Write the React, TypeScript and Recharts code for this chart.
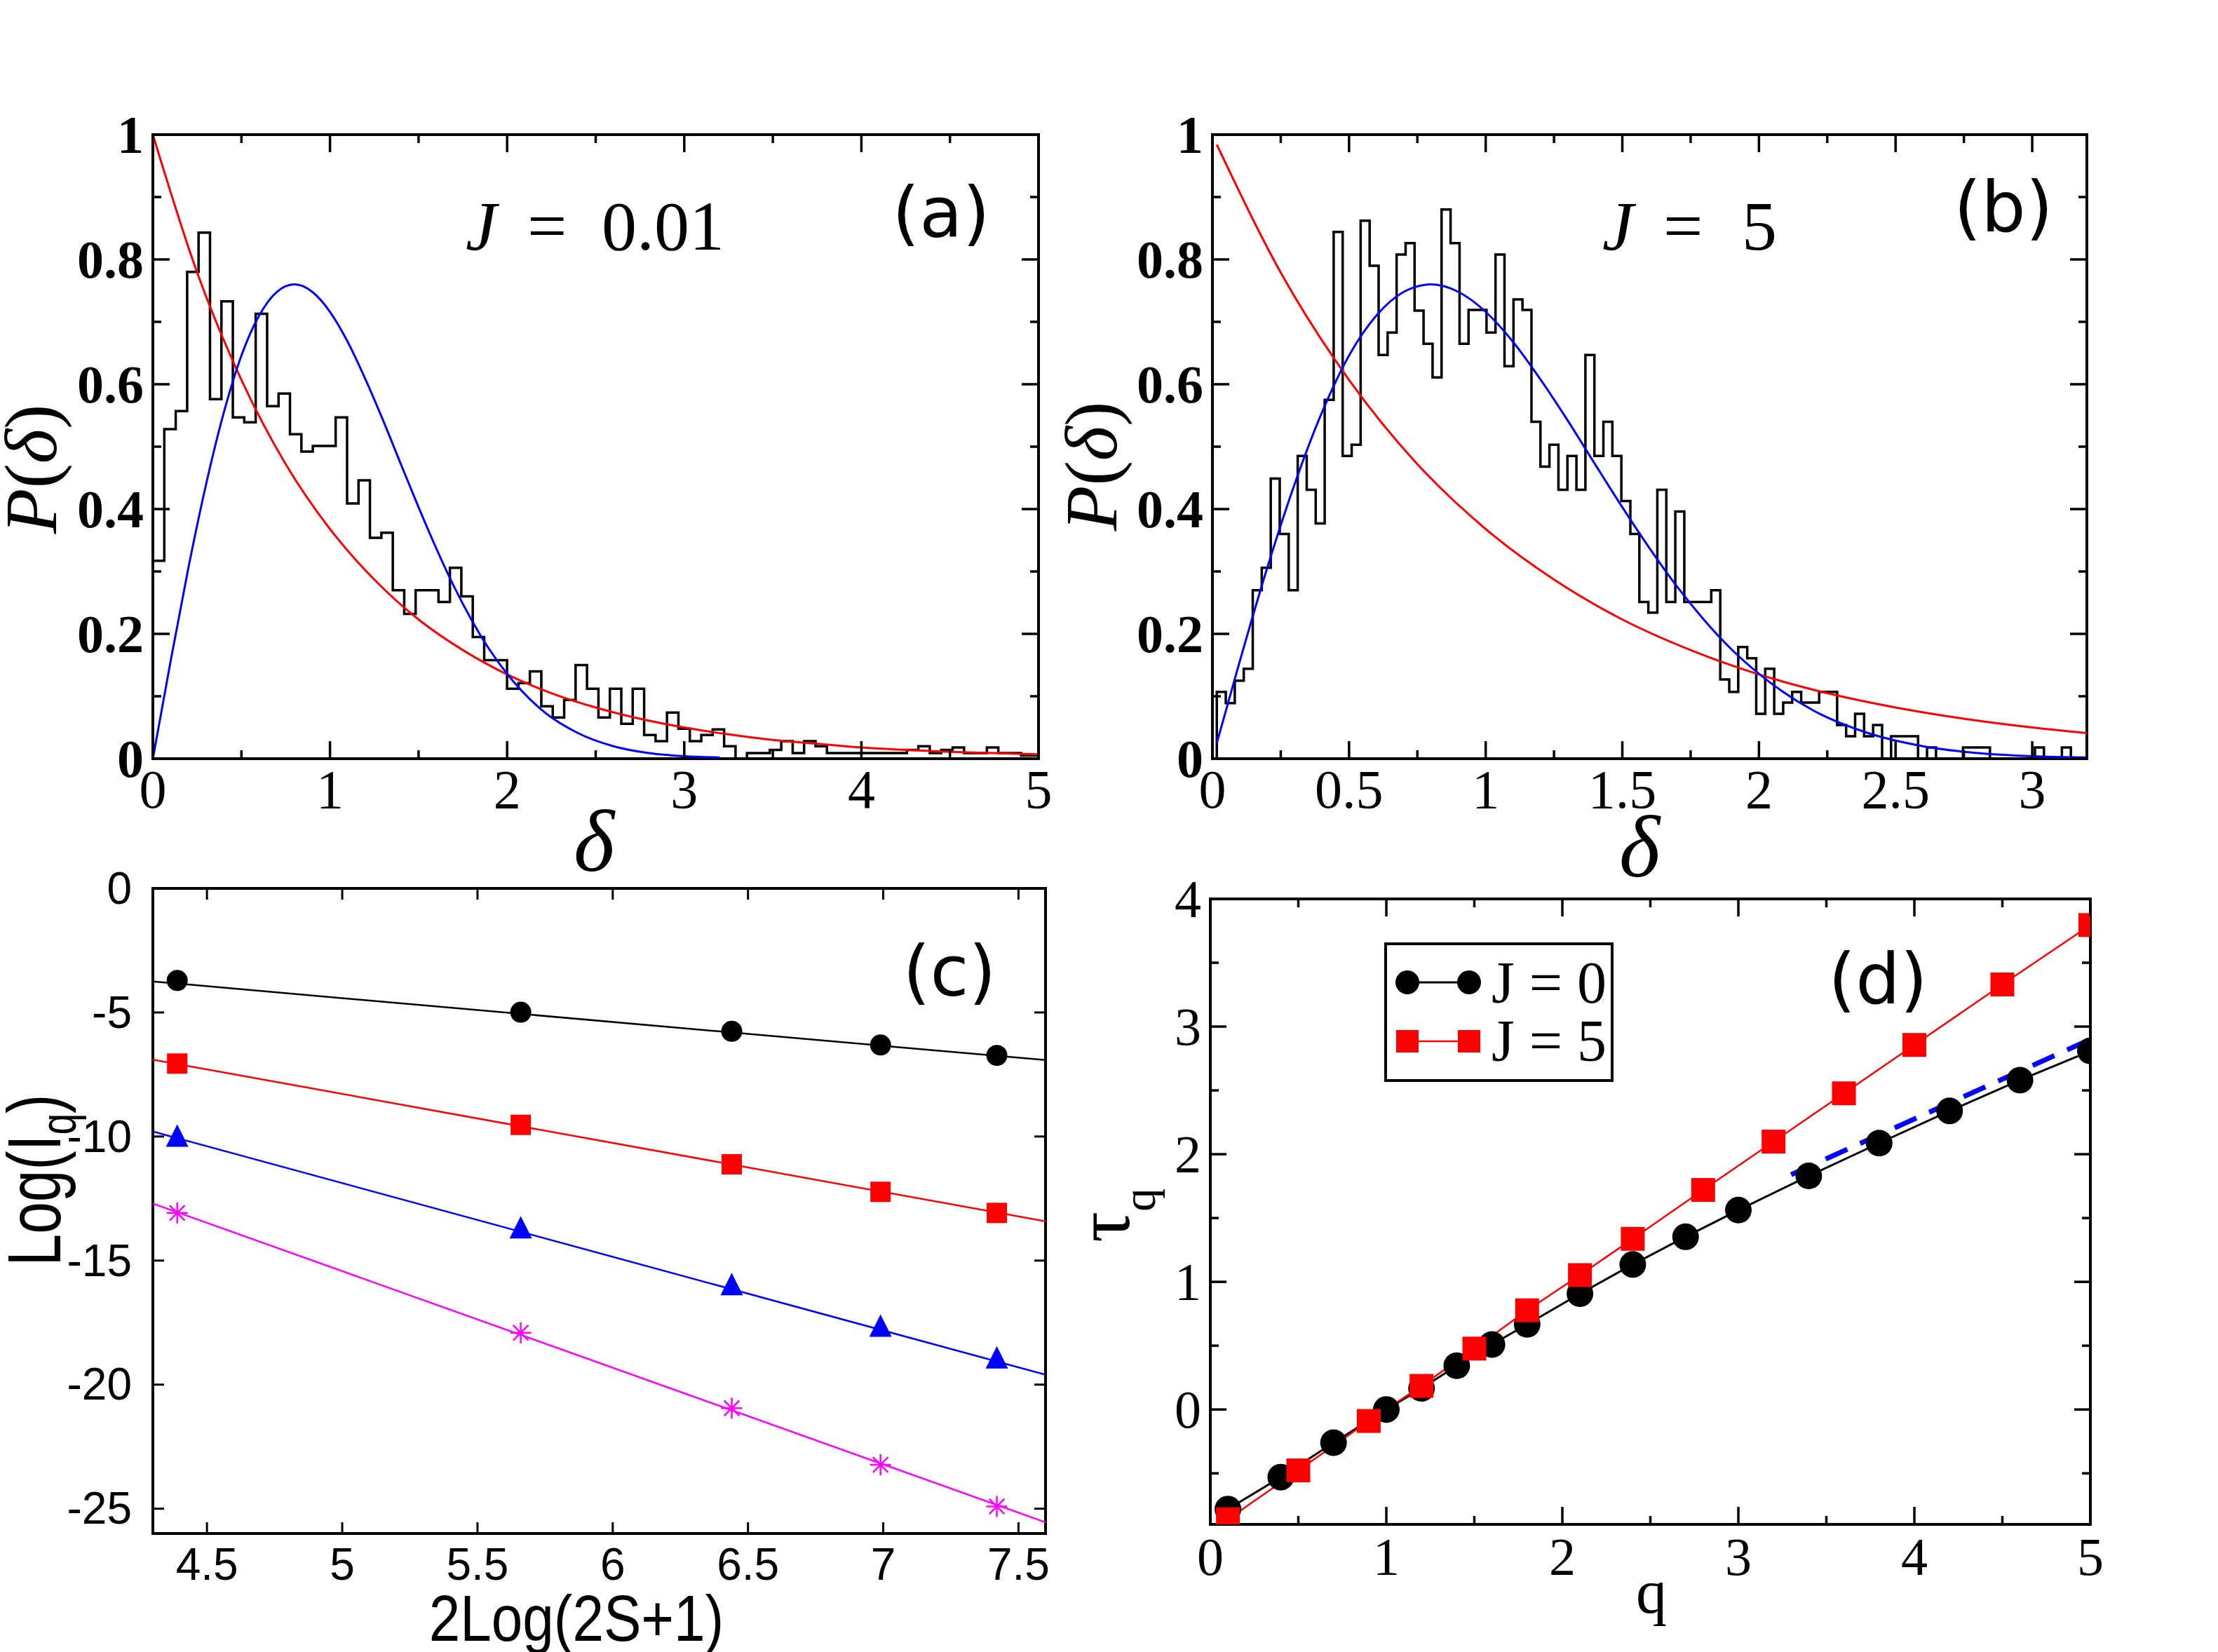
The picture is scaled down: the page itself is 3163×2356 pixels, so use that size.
import React from 'react';
import { ComposedChart, Line, XAxis, YAxis, ReferenceArea } from 'recharts';

const W = 3163;
const H = 2356;

const serif = "'Liberation Serif', 'Times New Roman', serif";
const sans = "'Liberation Sans', Arial, sans-serif";
const tag = "'DejaVu Sans', Verdana, sans-serif";

// ---- (a) level spacing histogram, J = 0.01
const histStartA = 0;
const histWidthA = 0.0645;
const histA = [
  0.317, 0.528, 0.557, 0.78, 0.843, 0.576, 0.733, 0.547, 0.539, 0.713,
  0.565, 0.585, 0.52, 0.492, 0.501, 0.501, 0.547, 0.409, 0.446, 0.354,
  0.362, 0.27, 0.232, 0.27, 0.27, 0.251, 0.306, 0.26, 0.195, 0.158,
  0.158, 0.112, 0.121, 0.14, 0.084, 0.066, 0.094, 0.15, 0.112, 0.066,
  0.112, 0.056, 0.112, 0.038, 0.028, 0.074, 0.048, 0.028, 0.038, 0.047,
  0.02, 0, 0.009, 0.009, 0.014, 0.028, 0.009, 0.028, 0.02, 0.009,
  0.009, 0.009, 0.009, 0.009, 0.009, 0.009, 0.014, 0.02, 0.009, 0.014,
  0.018, 0.009, 0.009, 0.018, 0.009, 0.009, 0.005, 0.005,
];

// ---- (b) level spacing histogram, J = 5
const histStartB = 0.016;
const histWidthB = 0.0329;
const histB = [
  0.107, 0.089, 0.125, 0.144, 0.27, 0.306, 0.449, 0.36, 0.27, 0.485,
  0.431, 0.377, 0.575, 0.844, 0.485, 0.503, 0.862, 0.79, 0.647, 0.683,
  0.808, 0.826, 0.718, 0.665, 0.611, 0.88, 0.826, 0.665, 0.719, 0.719,
  0.683, 0.808, 0.629, 0.736, 0.719, 0.54, 0.468, 0.503, 0.431, 0.485,
  0.431, 0.647, 0.485, 0.54, 0.485, 0.413, 0.36, 0.251, 0.234, 0.431,
  0.251, 0.396, 0.251, 0.251, 0.251, 0.27, 0.127, 0.107, 0.179, 0.161,
  0.072, 0.144, 0.072, 0.09, 0.107, 0.09, 0.09, 0.107, 0.107, 0.054,
  0.036, 0.072, 0.036, 0.054, 0, 0.036, 0.036, 0.036, 0, 0.018,
  0, 0, 0, 0.018, 0.018, 0.018, 0, 0, 0, 0,
  0, 0.018, 0, 0, 0.018, 0,
];

// red (Poisson) and blue (Wigner) reference curves
const poissonX = [0, 0.25, 0.5, 0.75, 1, 1.25, 1.5, 1.75, 2, 2.25, 2.5, 2.75, 3, 3.25, 3.5, 3.75, 4, 4.25, 4.5, 4.75, 5];
const poissonY = [1, 0.779, 0.607, 0.472, 0.368, 0.287, 0.223, 0.174, 0.135, 0.105, 0.082, 0.064, 0.05, 0.039, 0.03, 0.024, 0.018, 0.014, 0.011, 0.009, 0.007];
const wignerX = [0, 0.1, 0.2, 0.3, 0.4, 0.5, 0.6, 0.7, 0.8, 0.9, 1, 1.1, 1.2, 1.3, 1.4, 1.5, 1.6, 1.7, 1.8, 1.9, 2, 2.2, 2.4, 2.6, 2.8, 3, 3.2];
const wignerY = [0, 0.156, 0.305, 0.439, 0.554, 0.646, 0.71, 0.748, 0.76, 0.748, 0.716, 0.668, 0.608, 0.542, 0.472, 0.403, 0.337, 0.276, 0.222, 0.175, 0.136, 0.077, 0.041, 0.02, 0.009, 0.004, 0.002];
// in (b) both curves start at the first bin edge
const poissonStartB = { x: 0.016, y: 0.984 };
const wignerStartB = { x: 0.016, y: 0.025 };

// ---- (c) Log(I_q) vs 2Log(2S+1)
const logSize = [4.39, 5.66, 6.44, 6.99, 7.42];
const logIBlack = [-3.71, -4.99, -5.76, -6.31, -6.73];
const logIRed = [-7.06, -9.53, -11.12, -12.23, -13.08];
const logIBlue = [-10.05, -13.75, -16.04, -17.71, -18.99];
const logIMagenta = [-13.08, -17.91, -20.95, -23.23, -24.91];
const fitX = [4.3, 7.6];
const fitBlack = [-3.75, -6.92];
const fitRed = [-6.9, -13.42];
const fitBlue = [-9.8, -19.6];
const fitMagenta = [-12.7, -25.55];

// ---- (d) tau_q vs q
const qJ0 = [0.1, 0.4, 0.7, 1.0, 1.2, 1.4, 1.6, 1.8, 2.1, 2.4, 2.7, 3.0, 3.4, 3.8, 4.2, 4.6, 5.0];
const tauJ0 = [-0.78, -0.53, -0.26, 0, 0.166, 0.343, 0.509, 0.667, 0.907, 1.136, 1.353, 1.562, 1.83, 2.087, 2.339, 2.58, 2.809];
const qJ5 = [0.1, 0.5, 0.9, 1.2, 1.5, 1.8, 2.1, 2.4, 2.8, 3.2, 3.6, 4.0, 4.5, 5.0];
const tauJ5 = [-0.86, -0.477, -0.09, 0.185, 0.477, 0.777, 1.053, 1.337, 1.72, 2.099, 2.477, 2.856, 3.33, 3.795];
const dashQ = [3.3, 5.0];
const dashTau = [1.84, 2.9];

// tick lists
const ticksA_x = [0, 0.5, 1, 1.5, 2, 2.5, 3, 3.5, 4, 4.5, 5];
const ticksB_x = [0, 0.25, 0.5, 0.75, 1, 1.25, 1.5, 1.75, 2, 2.25, 2.5, 2.75, 3];
const ticksP_y = [0, 0.1, 0.2, 0.3, 0.4, 0.5, 0.6, 0.7, 0.8, 0.9, 1];
const ticksC_x = [4.5, 5, 5.5, 6, 6.5, 7, 7.5];
const ticksC_y = [0, -5, -10, -15, -20, -25];
const ticksD_x = [0, 0.5, 1, 1.5, 2, 2.5, 3, 3.5, 4, 4.5, 5];
const ticksD_y = [-0.5, 0, 0.5, 1, 1.5, 2, 2.5, 3, 3.5, 4];

const zip = (xs: number[], ys: number[]) => xs.map((x, i) => ({ x, y: ys[i] }));

const steps = (start: number, w: number, hs: number[]) => {
  const pts = [{ x: start, y: 0 }];
  hs.forEach((h, i) => pts.push({ x: start + i * w, y: h }));
  const end = start + hs.length * w;
  pts.push({ x: end, y: hs[hs.length - 1] });
  pts.push({ x: end, y: 0 });
  return pts;
};

const mult = (step: number) => (v: number) => Math.abs(v / step - Math.round(v / step)) < 1e-6;

type TickStyle = {
  major: (v: number) => boolean;
  len: number;
  minor: number;
  sw: number;
  font: string;
  size: number;
  weight?: number | string;
  offset: number;
};

// axes get 1px of room; ticks are drawn inward and mirrored on the opposite side
const AX = 1;

const bottomTick = (o: TickStyle, span: number) => (p: any) => {
  const v = p.payload.value;
  const maj = o.major(v);
  const len = maj ? o.len : o.minor;
  return (
    <g key={`bx${v}`}>
      <line x1={p.x} x2={p.x} y1={p.y} y2={p.y - len} stroke="#000" strokeWidth={o.sw} />
      <line x1={p.x} x2={p.x} y1={p.y - span} y2={p.y - span + len} stroke="#000" strokeWidth={o.sw} />
      {maj && (
        <text x={p.x} y={p.y + o.offset} textAnchor="middle" fontFamily={o.font} fontSize={o.size} fontWeight={o.weight}>
          {String(v)}
        </text>
      )}
    </g>
  );
};

const leftTick = (o: TickStyle, span: number) => (p: any) => {
  const v = p.payload.value;
  const maj = o.major(v);
  const len = maj ? o.len : o.minor;
  return (
    <g key={`ly${v}`}>
      <line x1={p.x} x2={p.x + len} y1={p.y} y2={p.y} stroke="#000" strokeWidth={o.sw} />
      <line x1={p.x + span} x2={p.x + span - len} y1={p.y} y2={p.y} stroke="#000" strokeWidth={o.sw} />
      {maj && (
        <text x={p.x - o.offset} y={p.y + o.size * 0.34} textAnchor="end" fontFamily={o.font} fontSize={o.size} fontWeight={o.weight}>
          {String(v)}
        </text>
      )}
    </g>
  );
};

type Box = { x: number; y: number; w: number; h: number };
type Margin = { top: number; right: number; bottom: number; left: number };

function Panel(props: {
  box: Box;
  margin: Margin;
  xDomain: [number, number];
  yDomain: [number, number];
  xTicks: number[];
  yTicks: number[];
  xs: TickStyle;
  ys: TickStyle;
  children: React.ReactNode;
}) {
  const { box, margin, xDomain, yDomain, xTicks, yTicks, xs, ys, children } = props;
  const m = { ...margin, left: margin.left - AX, bottom: margin.bottom - AX };
  const plotW = box.w - margin.left - margin.right;
  const plotH = box.h - margin.top - margin.bottom;
  return (
    <div style={{ position: 'absolute', left: box.x, top: box.y, width: box.w, height: box.h }}>
      <ComposedChart width={box.w} height={box.h} margin={m}>
        <XAxis
          dataKey="x"
          type="number"
          domain={xDomain}
          ticks={xTicks}
          interval={0}
          allowDataOverflow
          height={AX}
          tickSize={0}
          tickMargin={0}
          tickLine={false}
          axisLine={false}
          tick={bottomTick(xs, plotH)}
        />
        <YAxis
          type="number"
          domain={yDomain}
          ticks={yTicks}
          interval={0}
          allowDataOverflow
          width={AX}
          tickSize={0}
          tickMargin={0}
          tickLine={false}
          axisLine={false}
          tick={leftTick(ys, plotW)}
        />
        {children}
        <ReferenceArea x1={xDomain[0]} x2={xDomain[1]} y1={yDomain[0]} y2={yDomain[1]} fill="none" stroke="#000" strokeWidth={4} />
      </ComposedChart>
    </div>
  );
}

// marker shapes
const circleDot = (r: number, fill: string) => (p: any) => <circle key={`c${p.index}`} cx={p.cx} cy={p.cy} r={r} fill={fill} />;
const squareDot = (s: number, fill: string) => (p: any) => (
  <rect key={`s${p.index}`} x={p.cx - s / 2} y={p.cy - s / 2} width={s} height={s} fill={fill} />
);
const triDot = (s: number, fill: string) => (p: any) => (
  <polygon key={`t${p.index}`} points={`${p.cx},${p.cy - s * 0.6} ${p.cx - s / 2},${p.cy + s * 0.4} ${p.cx + s / 2},${p.cy + s * 0.4}`} fill={fill} />
);
const starDot = (s: number, col: string) => (p: any) => {
  const h = s / 2;
  const d = h * 0.72;
  return (
    <g key={`a${p.index}`} stroke={col} strokeWidth={2.5}>
      <line x1={p.cx} x2={p.cx} y1={p.cy - h} y2={p.cy + h} />
      <line x1={p.cx - h} x2={p.cx + h} y1={p.cy} y2={p.cy} />
      <line x1={p.cx - d} x2={p.cx + d} y1={p.cy - d} y2={p.cy + d} />
      <line x1={p.cx - d} x2={p.cx + d} y1={p.cy + d} y2={p.cy - d} />
    </g>
  );
};

const histStyleX: TickStyle = { major: mult(1), len: 25, minor: 12, sw: 3.5, font: serif, size: 78, offset: 70 };
const histStyleXB: TickStyle = { ...histStyleX, major: mult(0.5) };
const histStyleY: TickStyle = { major: mult(0.2), len: 24, minor: 12, sw: 3.5, font: serif, size: 76, weight: 'bold', offset: 13 };

export default function App() {
  const poisson = zip(poissonX, poissonY);
  const wigner = zip(wignerX, wignerY);
  const poissonB = [poissonStartB, ...poisson.filter((p) => p.x > 0 && p.x <= 3.25)];
  const wignerB = [wignerStartB, ...wigner.filter((p) => p.x > 0)];
  const histPtsA = steps(histStartA, histWidthA, histA);
  const histPtsB = steps(histStartB, histWidthB, histB);

  const cSeries = [
    { fit: fitBlack, pts: logIBlack, col: '#000000', dot: circleDot(15, '#000000') },
    { fit: fitRed, pts: logIRed, col: '#ff0000', dot: squareDot(29, '#ff0000') },
    { fit: fitBlue, pts: logIBlue, col: '#0000ff', dot: triDot(32, '#0000ff') },
    { fit: fitMagenta, pts: logIMagenta, col: '#ff00ff', dot: starDot(30, '#ff00ff') },
  ];

  return (
    <div style={{ position: 'absolute', left: 0, top: 0, width: W, height: H, background: '#fff', overflow: 'hidden' }}>
      {/* (a) */}
      <Panel
        box={{ x: 0, y: 0, w: 1581, h: 1178 }}
        margin={{ top: 192, right: 100, bottom: 96, left: 218 }}
        xDomain={[0, 5]}
        yDomain={[0, 1]}
        xTicks={ticksA_x}
        yTicks={ticksP_y}
        xs={histStyleX}
        ys={histStyleY}
      >
        <Line data={histPtsA} dataKey="y" type="stepAfter" stroke="#000" strokeWidth={3.5} dot={false} activeDot={false} isAnimationActive={false} />
        <Line data={poisson} dataKey="y" type="monotone" stroke="#ff0000" strokeWidth={3} dot={false} activeDot={false} isAnimationActive={false} />
        <Line data={wigner} dataKey="y" type="monotone" stroke="#0000ff" strokeWidth={3} dot={false} activeDot={false} isAnimationActive={false} />
      </Panel>

      {/* (b) */}
      <Panel
        box={{ x: 1581, y: 0, w: 1582, h: 1178 }}
        margin={{ top: 192, right: 187, bottom: 96, left: 148 }}
        xDomain={[0, 3.2]}
        yDomain={[0, 1]}
        xTicks={ticksB_x}
        yTicks={ticksP_y}
        xs={histStyleXB}
        ys={histStyleY}
      >
        <Line data={histPtsB} dataKey="y" type="stepAfter" stroke="#000" strokeWidth={3.5} dot={false} activeDot={false} isAnimationActive={false} />
        <Line data={poissonB} dataKey="y" type="monotone" stroke="#ff0000" strokeWidth={3} dot={false} activeDot={false} isAnimationActive={false} />
        <Line data={wignerB} dataKey="y" type="monotone" stroke="#0000ff" strokeWidth={3} dot={false} activeDot={false} isAnimationActive={false} />
      </Panel>

      {/* (c) */}
      <Panel
        box={{ x: 0, y: 1178, w: 1581, h: 1178 }}
        margin={{ top: 89, right: 90, bottom: 169, left: 218 }}
        xDomain={[4.3, 7.6]}
        yDomain={[-26, 0]}
        xTicks={ticksC_x}
        yTicks={ticksC_y}
        xs={{ major: () => true, len: 16, minor: 16, sw: 3, font: sans, size: 64, offset: 66 }}
        ys={{ major: () => true, len: 16, minor: 16, sw: 3, font: sans, size: 64, offset: 30 }}
      >
        {cSeries.map((s, i) => (
          <Line key={`f${i}`} data={zip(fitX, s.fit)} dataKey="y" type="linear" stroke={s.col} strokeWidth={2.5} dot={false} activeDot={false} isAnimationActive={false} />
        ))}
        {cSeries.map((s, i) => (
          <Line key={`m${i}`} data={zip(logSize, s.pts)} dataKey="y" type="linear" stroke="none" dot={s.dot} activeDot={false} isAnimationActive={false} />
        ))}
      </Panel>

      {/* (d) */}
      <Panel
        box={{ x: 1581, y: 1178, w: 1582, h: 1178 }}
        margin={{ top: 104, right: 182, bottom: 182, left: 145 }}
        xDomain={[0, 5]}
        yDomain={[-0.9, 4]}
        xTicks={ticksD_x}
        yTicks={ticksD_y}
        xs={{ major: mult(1), len: 25, minor: 12, sw: 3.5, font: serif, size: 76, offset: 72 }}
        ys={{ major: mult(1), len: 23, minor: 12, sw: 3.5, font: serif, size: 76, offset: 13 }}
      >
        <Line data={zip(qJ0, tauJ0)} dataKey="y" type="linear" stroke="#000" strokeWidth={3} dot={circleDot(19, '#000')} activeDot={false} isAnimationActive={false} />
        <Line data={zip(dashQ, dashTau)} dataKey="y" type="linear" stroke="#0000ff" strokeWidth={7} strokeDasharray="34 20" dot={false} activeDot={false} isAnimationActive={false} />
        <Line data={zip(qJ5, tauJ5)} dataKey="y" type="linear" stroke="#ff0000" strokeWidth={2.5} dot={squareDot(34, '#ff0000')} activeDot={false} isAnimationActive={false} />
      </Panel>

      {/* titles, annotations, legend */}
      <svg width={W} height={H} style={{ position: 'absolute', left: 0, top: 0, pointerEvents: 'none' }}>
        {/* (a) */}
        <text transform="translate(80,669) rotate(-90)" textAnchor="middle" fontFamily={serif} fontSize={106}>
          <tspan fontStyle="italic">P</tspan>(<tspan fontStyle="italic">δ</tspan>)
        </text>
        <text x={847} y={1242} textAnchor="middle" fontFamily={serif} fontStyle="italic" fontSize={125}>δ</text>
        <text y={356} fontFamily={serif} fontSize={100}>
          <tspan x={664} fontStyle="italic">J</tspan>
          <tspan x={752}>=</tspan>
          <tspan x={858}>0.01</tspan>
        </text>
        <text x={1342} y={338} textAnchor="middle" fontFamily={tag} fontSize={100}>(a)</text>

        {/* (b) */}
        <text transform="translate(1592,665) rotate(-90)" textAnchor="middle" fontFamily={serif} fontSize={106}>
          <tspan fontStyle="italic">P</tspan>(<tspan fontStyle="italic">δ</tspan>)
        </text>
        <text x={2338} y={1250} textAnchor="middle" fontFamily={serif} fontStyle="italic" fontSize={125}>δ</text>
        <text y={356} fontFamily={serif} fontSize={100}>
          <tspan x={2285} fontStyle="italic">J</tspan>
          <tspan x={2372}>=</tspan>
          <tspan x={2484}>5</tspan>
        </text>
        <text x={2857} y={330} textAnchor="middle" fontFamily={tag} fontSize={100}>(b)</text>

        {/* (c) */}
        <text transform="translate(86,1683) rotate(-90) scale(0.76,1)" textAnchor="middle" fontFamily={sans} fontSize={108}>
          Log(I<tspan fontSize={72} dy={22}>q</tspan><tspan dy={-22}>)</tspan>
        </text>
        <text transform="translate(822,2340) scale(0.87,1)" textAnchor="middle" fontFamily={sans} fontSize={92}>2Log(2S+1)</text>
        <text x={1354} y={1420} textAnchor="middle" fontFamily={tag} fontSize={100}>(c)</text>

        {/* (d) */}
        <text transform="translate(1610,1772) rotate(-90)" fontFamily={serif} fontSize={110}>
          τ<tspan fontSize={66} dy={37}>q</tspan>
        </text>
        <text x={2355} y={2300} textAnchor="middle" fontFamily={serif} fontSize={88}>q</text>
        <text x={2678} y={1431} textAnchor="middle" fontFamily={tag} fontSize={100}>(d)</text>

        <rect x={1976} y={1346} width={323} height={195} fill="#fff" stroke="#000" strokeWidth={4} />
        <line x1={2007} x2={2095} y1={1401} y2={1401} stroke="#000" strokeWidth={3} />
        <circle cx={2007} cy={1401} r={17} fill="#000" />
        <circle cx={2095} cy={1401} r={17} fill="#000" />
        <text x={2127} y={1430} fontFamily={serif} fontSize={84}>J = 0</text>
        <line x1={2007} x2={2095} y1={1485} y2={1485} stroke="#ff0000" strokeWidth={2.5} />
        <rect x={1991} y={1469} width={32} height={32} fill="#ff0000" />
        <rect x={2079} y={1469} width={32} height={32} fill="#ff0000" />
        <text x={2127} y={1513} fontFamily={serif} fontSize={84}>J = 5</text>
      </svg>
    </div>
  );
}
